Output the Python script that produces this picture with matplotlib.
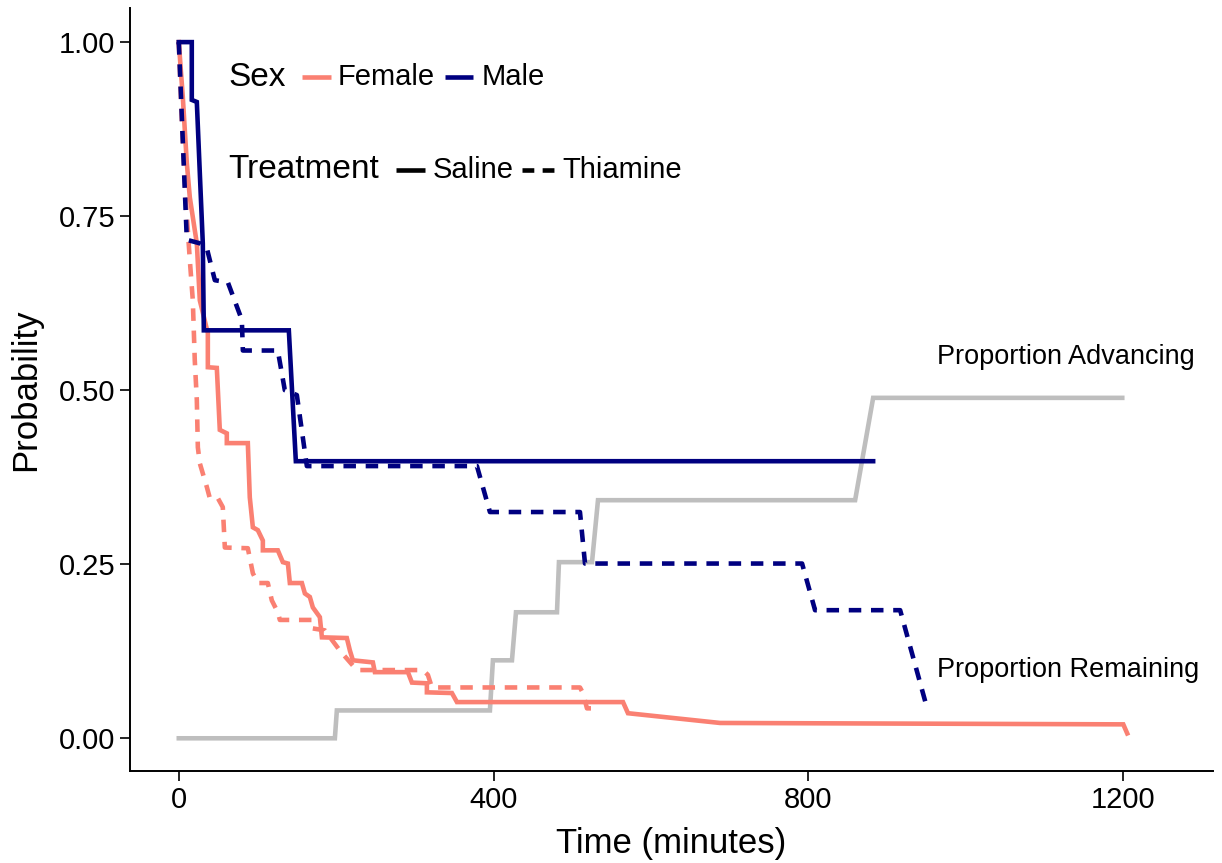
import matplotlib
matplotlib.use("Agg")
import matplotlib.pyplot as plt
from matplotlib.lines import Line2D

plt.rcParams['font.family'] = ['Liberation Sans', 'DejaVu Sans']
plt.rcParams['lines.scale_dashes'] = False

# curves (time in minutes, probability)
male_saline_t = [0, 16.5, 16.5, 22.9, 26.7, 30.5, 31.8, 139.8, 148.7, 882.2]
male_saline_p = [1.0, 1.0, 0.917, 0.914, 0.812, 0.711, 0.586, 0.586, 0.398, 0.398]

male_thiamine_t = [0, 10.2, 26.7, 35.6, 45.8, 62.3, 80.1, 81.4, 125.8, 134.7, 150.0,
                   162.7, 378.8, 395.3, 509.7, 516.1, 791.9, 808.4, 916.5, 950.8]
male_thiamine_p = [1.0, 0.716, 0.711, 0.704, 0.658, 0.655, 0.601, 0.557, 0.557, 0.500, 0.493,
                   0.391, 0.391, 0.325, 0.325, 0.251, 0.251, 0.184, 0.184, 0.043]

female_saline_t = [0, 5.1, 10.2, 14.0, 20.3, 22.9, 26.7, 36.9, 36.9, 48.3, 52.1, 61.0, 61.0,
                   87.7, 90.2, 94.1, 100.4, 106.8, 106.8, 125.8, 132.2, 138.6, 141.1, 156.4,
                   160.2, 166.5, 170.3, 179.2, 181.8, 213.5, 217.4, 221.2, 246.6, 249.1,
                   291.1, 296.2, 315.2, 315.2, 347.0, 353.4, 564.4, 570.7, 687.7, 1200.0, 1205.0]
female_saline_p = [1.0, 0.921, 0.826, 0.777, 0.730, 0.711, 0.629, 0.582, 0.533, 0.532, 0.443,
                   0.438, 0.424, 0.424, 0.346, 0.303, 0.299, 0.284, 0.270, 0.270, 0.253, 0.251,
                   0.223, 0.223, 0.208, 0.203, 0.188, 0.174, 0.145, 0.144, 0.126, 0.112, 0.109,
                   0.095, 0.095, 0.080, 0.079, 0.066, 0.065, 0.052, 0.052, 0.036, 0.022, 0.020,
                   0.007]

female_thiamine_t = [0, 3.8, 8.9, 14.0, 17.8, 20.3, 22.9, 24.2, 26.7, 35.6, 39.4, 49.6, 55.9,
                     58.5, 87.7, 94.1, 100.4, 113.1, 118.2, 125.8, 128.4, 169.1, 169.1, 185.6,
                     204.6, 226.2, 310.1, 316.5, 321.6, 509.7, 513.5, 518.6, 525.0]
female_thiamine_p = [1.0, 0.888, 0.773, 0.687, 0.629, 0.543, 0.486, 0.418, 0.395, 0.361, 0.345,
                     0.345, 0.332, 0.274, 0.273, 0.237, 0.223, 0.223, 0.198, 0.181, 0.170,
                     0.170, 0.158, 0.155, 0.126, 0.098, 0.098, 0.091, 0.073, 0.073, 0.065,
                     0.043, 0.043]

advancing_t = [0, 198.3, 200.8, 395.3, 399.1, 423.3, 428.4, 480.5, 483.0, 525.0, 532.6,
               859.3, 882.2, 1198.7]
advancing_p = [0, 0, 0.040, 0.040, 0.112, 0.112, 0.181, 0.181, 0.253, 0.253, 0.342,
               0.342, 0.489, 0.489]

x_ticks = [0, 400, 800, 1200]
y_ticks = [0.00, 0.25, 0.50, 0.75, 1.00]

salmon = '#FA8072'
navy = '#000080'
grey = '#BEBEBE'
dash = (9, 7)
lw = 3.3

fig = plt.figure(figsize=(12.22, 8.63), dpi=100)
ax = fig.add_axes([130 / 1222, 92 / 863, 1083 / 1222, 763 / 863])

ax.plot(advancing_t, advancing_p, color=grey, lw=lw, solid_joinstyle='miter')
ax.plot(female_saline_t, female_saline_p, color=salmon, lw=lw, solid_joinstyle='miter')
ax.plot(female_thiamine_t, female_thiamine_p, color=salmon, lw=lw, dashes=dash)
ax.plot(male_saline_t, male_saline_p, color=navy, lw=lw, solid_joinstyle='miter')
ax.plot(male_thiamine_t, male_thiamine_p, color=navy, lw=lw, dashes=dash)

ax.text(963, 0.547, 'Proportion Advancing', fontsize=19.5, ha='left', va='center')
ax.text(963, 0.098, 'Proportion Remaining', fontsize=19.5, ha='left', va='center')

ax.set_xlim(-62, 1314)
ax.set_ylim(-0.047, 1.049)
ax.set_xticks(x_ticks)
ax.set_yticks(y_ticks)
ax.set_yticklabels([f'{v:.2f}' for v in y_ticks])
ax.tick_params(labelsize=21, length=7, width=1.2, color='black', labelcolor='black')
for side in ['top', 'right']:
    ax.spines[side].set_visible(False)
for side in ['left', 'bottom']:
    ax.spines[side].set_linewidth(1.4)
ax.set_xlabel('Time (minutes)', fontsize=25, labelpad=10)
ax.set_ylabel('Probability', fontsize=25, labelpad=12)

# legend drawn by hand in figure pixels (ggplot horizontal layout)
def fx(px):
    return px / 1222

def fy(py):
    return 1 - py / 863

rows = [
    (77, 'Sex', [(302, 331, salmon, None, 338, 'Female'), (445, 473, navy, None, 482, 'Male')]),
    (170, 'Treatment', [(396, 425, 'black', None, 433, 'Saline'),
                        (522, 554, 'black', (8.5, 6), 562, 'Thiamine')]),
]
for py, title, keys in rows:
    fig.text(fx(228), fy(py), title, fontsize=24, ha='left', va='center')
    for x0, x1, col, ds, tx, lab in keys:
        ln = Line2D([fx(x0), fx(x1)], [fy(py), fy(py)], transform=fig.transFigure,
                    color=col, lw=lw, solid_capstyle='butt')
        if ds:
            ln.set_dashes(ds)
        fig.add_artist(ln)
        fig.text(fx(tx), fy(py), lab, fontsize=21, ha='left', va='center')

fig.savefig('out.png', dpi=100)
